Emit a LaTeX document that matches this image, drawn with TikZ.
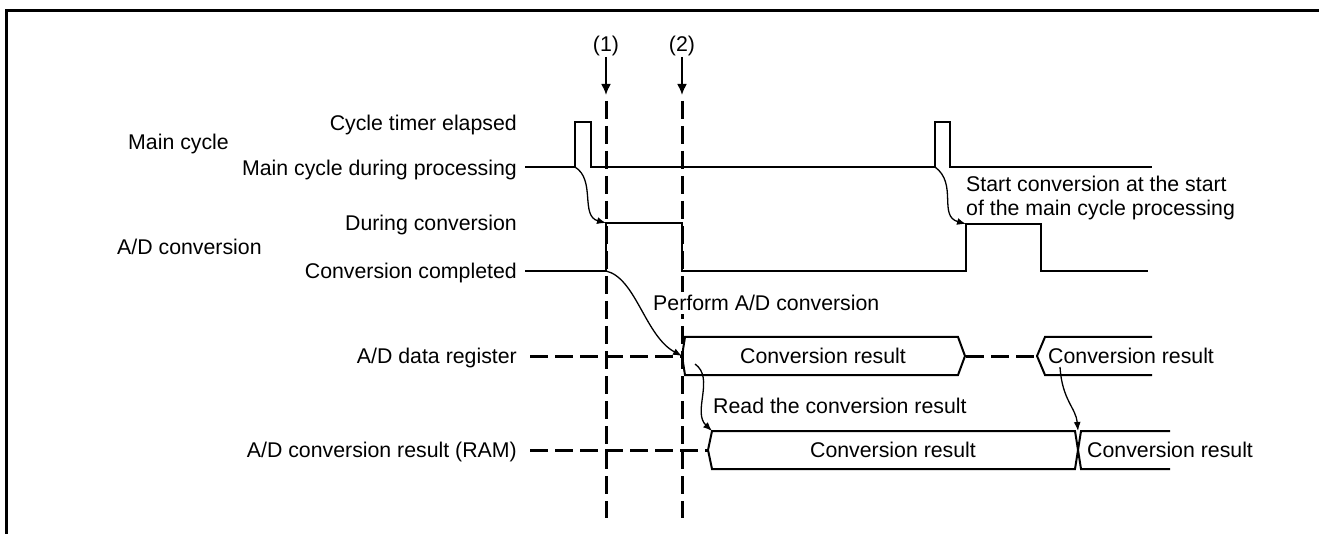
\documentclass[tikz,border=0pt]{standalone}
\usepackage{fontspec}
\setmainfont{Liberation Sans}
\usetikzlibrary{arrows.meta}
\begin{document}
\begin{tikzpicture}[x=1pt,y=-1pt,
  every node/.style={font=\fontsize{21.3}{25}\selectfont},
  lbl/.style={inner sep=0pt,text height=15.2pt,text depth=0pt},
  wave/.style={line width=2pt,line join=miter},
  dashline/.style={line width=3pt,dash pattern=on 18pt off 7pt},
  frameline/.style={line width=3pt},
  markarr/.style={line width=2pt,-{Latex[length=11pt,width=10pt]}},
  curvarr/.style={line width=1.3pt,-{Latex[length=9pt,width=7pt]}}]
\useasboundingbox (0,0) rectangle (1319,534);

% outer frame (top and left edges)
\draw[frameline] (6.5,534) -- (6.5,11) -- (1319,11);

% time markers (1) and (2)
\node[lbl] (m1) at (606,44) {(1)};
\node[lbl] (m2) at (682,44) {(2)};
\coordinate (m1tip) at (606,95);
\coordinate (m2tip) at (682,95);
\draw[markarr] (606,57) -- (m1tip);
\draw[markarr] (682,57) -- (m2tip);
\draw[dashline] (606,101) -- (606,518);
\draw[dashline] (682,101) -- (682,518);

% signal names
\node[lbl,anchor=west] (mc) at (128,142) {Main cycle};
\node[lbl,anchor=east] (cte) at (517,123) {Cycle timer elapsed};
\node[lbl,anchor=east] (mcp) at (517,168) {Main cycle during processing};
\node[lbl,anchor=west] (adc) at (117,247) {A/D conversion};
\node[lbl,anchor=east] (dc) at (517,223) {During conversion};
\node[lbl,anchor=east] (cc) at (517,271) {Conversion completed};
\node[lbl,anchor=east] (adr) at (517,356) {A/D data register};
\node[lbl,anchor=east] (ram) at (517,450) {A/D conversion result (RAM)};

% main cycle waveform
\coordinate (p1) at (575,167);
\coordinate (p2) at (935,167);
\draw[wave] (525,167) -- (p1) -- (575,122) -- (591,122) -- (591,167)
  -- (p2) -- (935,122) -- (950,122) -- (950,167) -- (1152,167);

% A/D conversion waveform
\coordinate (a1) at (606,223);
\coordinate (a1low) at (606,271);
\coordinate (a2) at (966,224);
\draw[wave] (525,271) -- (a1low) -- (a1) -- (682,223) -- (682,271)
  -- (966,271) -- (a2) -- (1041,224) -- (1041,271) -- (1148,271);

% A/D data register bus
\coordinate (r1) at (682,356);
\draw[dashline] (530,356) -- (r1);
\draw[wave] (685,337) -- (r1) -- (685,375) -- (958,375) -- (965,356)
  -- (958,337) -- cycle;
\node (rv1) at (823,356) {Conversion result};
\draw[dashline] (966,356) -- (1037,356);
\draw[wave] (1152,337) -- (1045,337) -- (1037,356) -- (1045,375) -- (1152,375);
\node[anchor=west,inner sep=0pt] (rv2) at (1048,356) {Conversion result};
\coordinate (r1src) at (695,364);
\coordinate (r2src) at (1060,367);

% A/D conversion result (RAM) bus
\coordinate (q1) at (708,450);
\draw[dashline] (530,450) -- (q1);
\draw[wave] (712,431) -- (q1) -- (712,469) -- (1075,469) -- (1078,450)
  -- (1075,431) -- cycle;
\node (qv1) at (893,450) {Conversion result};
\coordinate (q2) at (1078,431);
\draw[wave] (1170,431) -- (1081,431) -- (1078,450) -- (1081,469) -- (1170,469);
\node[anchor=west,inner sep=0pt] (qv2) at (1087,450) {Conversion result};
\coordinate (q1top) at (712,431);

% annotations (the first one masks the marker line behind it)
\node[lbl,anchor=west,fill=white,inner xsep=0pt,inner ysep=3pt] (t1) at (653,303) {Perform A/D conversion};
\node[lbl,anchor=west] (t2) at (713,406) {Read the conversion result};
\node[lbl,anchor=west] (t3) at (966,184) {Start conversion at the start};
\node[lbl,anchor=west] (t4) at (966,208) {of the main cycle processing};

% causal arrows
\draw[curvarr] (p1) .. controls (596,180) and (580,216) .. (a1);
\draw[curvarr] (a1low) .. controls (636,278) and (645,336) .. (r1);
\draw[curvarr] (r1src) .. controls (715,378) and (692,412) .. (q1top);
\draw[curvarr] (r2src) .. controls (1062,400) and (1076,408) .. (q2);
\draw[curvarr] (p2) .. controls (958,184) and (938,216) .. (a2);
\end{tikzpicture}
\end{document}
